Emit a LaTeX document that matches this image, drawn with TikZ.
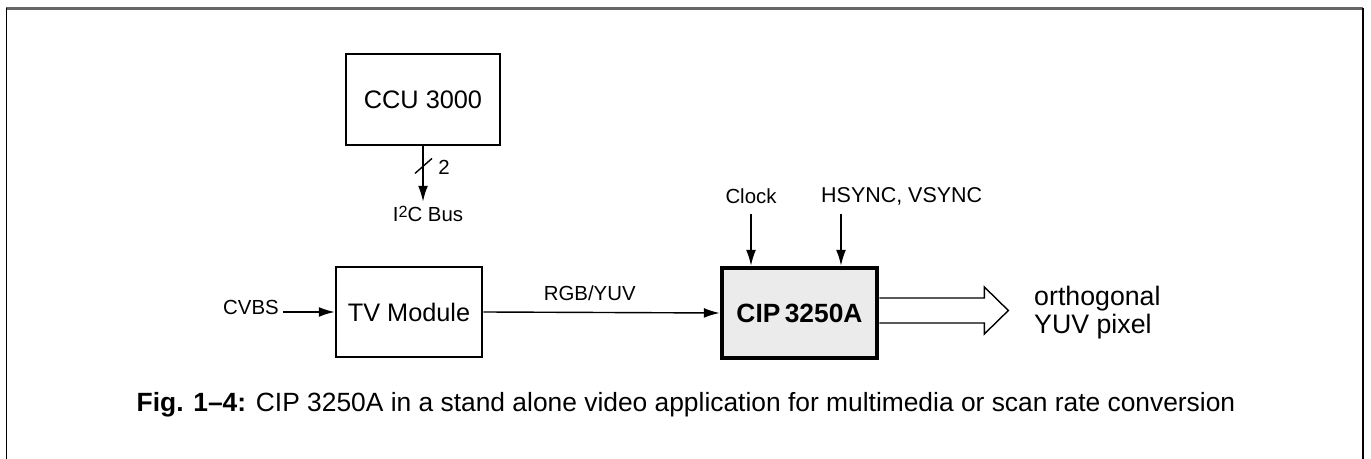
\documentclass[tikz,border=0pt]{standalone}
\usepackage{fontspec}
\setmainfont{Liberation Sans}
\usepackage{tikz}
\usetikzlibrary{arrows.meta,positioning,calc}

\begin{document}
\begin{tikzpicture}[
  x=0.01cm, y=-0.01cm,
  blk/.style={draw, line width=0.8pt, minimum width=1.5cm,
              minimum height=0.9cm, align=center, font=\fontsize{7.2}{8.6}\selectfont},
  lbl/.style={font=\fontsize{5.8}{7}\selectfont, inner sep=1pt},
  arr/.style={-{Latex[length=4.5pt,width=2.8pt]}, line width=0.4pt}
]
\useasboundingbox (0,0) rectangle (1371,459);

% ======= Frame =======
\draw[line width=0.6pt, black!60] (6,8.5) -- (1363,8.5);
\draw[line width=0.5pt] (6.5,8) -- (6.5,459);
\draw[line width=0.5pt] (1363,8) -- (1363,459);

% ======= Blocks =======
\node[blk, minimum width=1.54cm, minimum height=0.91cm] (ccu) at (423,99.5) {CCU 3000};
\node[blk, minimum width=1.44cm] (tv) at (409,312) {TV Module};
\node[blk, minimum width=1.55cm, line width=1.3pt, fill=black!8,
      font=\fontsize{7.5}{9}\selectfont\bfseries] (cip) at (799.5,313) {CIP\,3250A};

% ======= Labels =======
\node[lbl] (i2c)   at (428,214) {I\raisebox{0.45ex}{\fontsize{4.6}{5}\selectfont 2}C Bus};
\node[lbl] (bw)    at (444,167) {2};
\node[lbl] (cvbs)  at (251,307) {CVBS};
\node[lbl] (clock) at (751,196) {Clock};
\node[lbl, anchor=west, font=\fontsize{6.1}{7}\selectfont] (hsync) at (817,196) {HSYNC, VSYNC};
\coordinate (hs) at (841,214);
\node[font=\fontsize{7.6}{8}\selectfont, align=left, anchor=west, inner sep=1pt] (out) at (1030,313)
  {orthogonal\\YUV pixel};

% ======= Connections =======
\draw[arr] (ccu.south) -- (ccu.south |- i2c.north);
\draw ($(ccu.south)+(-8,27)$) -- ++(17,-15);
\draw[arr] (cvbs.east |- tv.west) -- (tv.west);
\draw[arr] (tv.east) -- node[lbl, above=2pt, pos=0.45]{RGB/YUV} (cip.west);
\draw[arr] (clock.south |- hs) -- (clock.south |- cip.north);
\draw[arr] (hs) -- (hs |- cip.north);

% hollow output arrow
\draw[line width=0.4pt] (cip.east) ++(0,-15) -- ++(105,0) -- ++(0,-11)
  -- ++(24,23.5) -- ++(-24,23.5) -- ++(0,-11) -- ++(-105,0);

% ======= Caption =======
\node[font=\fontsize{7.5}{9}\selectfont] (cap) at (686,405)
  {\textbf{Fig. 1--4:} CIP 3250A in a stand alone video application for multimedia or scan rate conversion};

\end{tikzpicture}
\end{document}
